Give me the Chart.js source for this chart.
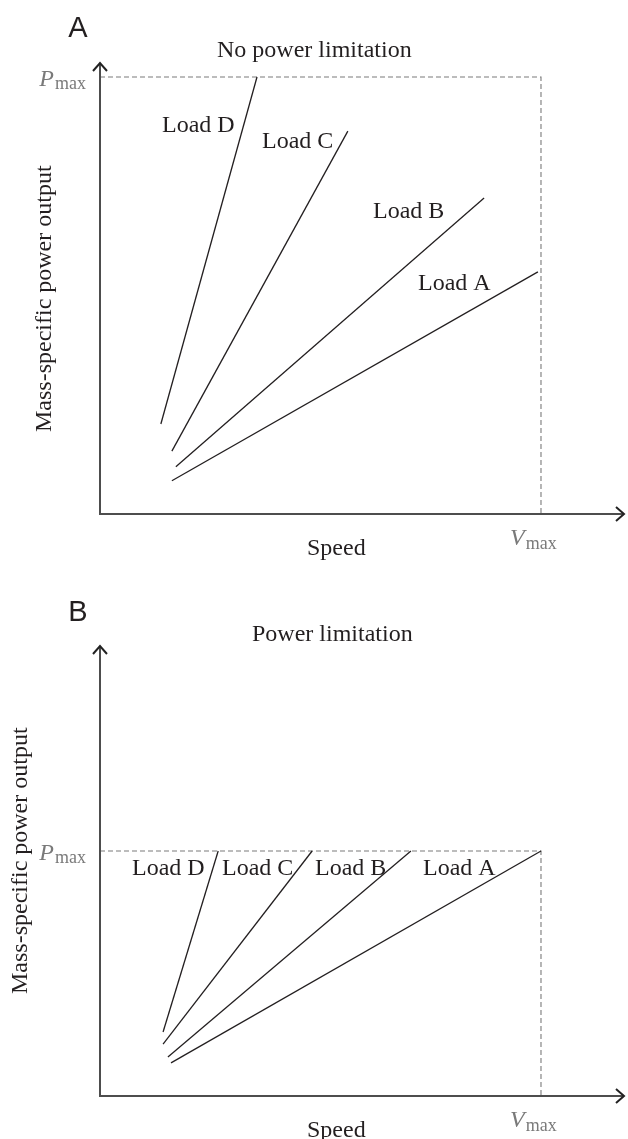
<!DOCTYPE html>
<html><head><meta charset="utf-8">
<script src="https://cdn.jsdelivr.net/npm/chart.js@4"></script>
<style>
html,body{margin:0;padding:0;background:#fff;}
.panel{position:relative;width:628px;}
canvas{display:block;}
</style></head><body>
<div class="panel" style="height:570px"><canvas id="chartA"></canvas></div>
<div class="panel" style="height:569px"><canvas id="chartB"></canvas></div>
<script>
// ---- data (speed in units of Vmax, power in units of Pmax) ----
const loadNames = ['Load A', 'Load B', 'Load C', 'Load D'];
const vmax = 1;
const pmax = 1;
// Panel A: no power limitation
const aSpeedStart = [0.163, 0.172, 0.163, 0.138];
const aSpeedEnd   = [0.993, 0.871, 0.562, 0.356];
const aPowerStart = [0.076, 0.108, 0.144, 0.206];
const aPowerEnd   = [0.554, 0.723, 0.876, 1.000];
// Panel B: power limitation
const bSpeedStart = [0.161, 0.154, 0.143, 0.143];
const bSpeedEnd   = [1.000, 0.705, 0.481, 0.268];
const bPowerStart = [0.135, 0.159, 0.212, 0.261];
const bPowerEnd   = [1.000, 1.000, 1.000, 1.000];

const SERIF = '"Liberation Serif", "Times New Roman", serif';
const SANS = '"Liberation Sans", Arial, sans-serif';
const INK = '#231f20';
const GREY = '#7a7a7a';

function buildDatasets(s0, s1, p0, p1) {
  const ds = loadNames.map((name, i) => ({
    label: name,
    data: [{x: s0[i], y: p0[i]}, {x: s1[i], y: p1[i]}],
    borderColor: INK, borderWidth: 1.3, pointRadius: 0, fill: false
  }));
  ds.push({
    label: 'limits',
    data: [{x: 0, y: pmax}, {x: vmax, y: pmax}, {x: vmax, y: 0}],
    borderColor: GREY, borderWidth: 1.1, borderDash: [5, 3], pointRadius: 0, fill: false
  });
  return ds;
}

const decorPlugin = {
  id: 'decor',
  afterDraw(chart, args, o) {
    const ctx = chart.ctx;
    const xs = chart.scales.x, ys = chart.scales.y;
    const x0 = xs.getPixelForValue(0), y0 = ys.getPixelForValue(0);
    const xEnd = chart.chartArea.right, yEnd = chart.chartArea.top;
    const xV = xs.getPixelForValue(vmax), yP = ys.getPixelForValue(pmax);
    ctx.save();
    // axes
    ctx.strokeStyle = '#4d4d4d'; ctx.lineWidth = 2;
    ctx.beginPath();
    ctx.moveTo(x0, yEnd + 1); ctx.lineTo(x0, y0); ctx.lineTo(xEnd - 1, y0);
    ctx.stroke();
    // arrow heads
    ctx.strokeStyle = '#222'; ctx.lineWidth = 2; ctx.lineJoin = 'miter';
    ctx.beginPath();
    ctx.moveTo(x0 - 7, yEnd + 9); ctx.lineTo(x0, yEnd + 1); ctx.lineTo(x0 + 7, yEnd + 9);
    ctx.moveTo(xEnd - 9, y0 - 7); ctx.lineTo(xEnd - 1, y0); ctx.lineTo(xEnd - 9, y0 + 7);
    ctx.stroke();
    // texts
    ctx.fillStyle = INK; ctx.textBaseline = 'alphabetic';
    ctx.font = '29px ' + SANS; ctx.textAlign = 'center';
    ctx.fillText(o.letter, o.letterPos[0], o.letterPos[1]);
    ctx.font = '24px ' + SERIF; ctx.textAlign = 'left';
    ctx.fillText(o.title, o.titlePos[0], o.titlePos[1]);
    o.labels.forEach(l => ctx.fillText(l[0], l[1], l[2]));
    // x title
    ctx.fillText('Speed', o.speedX, y0 + 41);
    // y title
    ctx.save();
    ctx.translate(o.yTitleX, o.yTitleBottom);
    ctx.rotate(-Math.PI / 2);
    ctx.fillText('Mass-specific power output', 0, 0);
    ctx.restore();
    // Pmax
    ctx.fillStyle = GREY;
    ctx.font = '18px ' + SERIF; ctx.textAlign = 'right';
    ctx.fillText('max', x0 - 14, yP + 12);
    const wMax = ctx.measureText('max').width;
    ctx.font = 'italic 24px ' + SERIF;
    ctx.fillText('P', x0 - 14 - wMax - 1, yP + 9);
    // Vmax
    ctx.textAlign = 'left';
    ctx.font = 'italic 24px ' + SERIF;
    ctx.fillText('V', xV - 31, y0 + 31);
    const wV = ctx.measureText('V').width;
    ctx.font = '18px ' + SERIF;
    ctx.fillText('max', xV - 31 + wV + 1, y0 + 35);
    ctx.restore();
  }
};

function makeChart(id, datasets, yMax, padding, decor) {
  return new Chart(document.getElementById(id), {
    type: 'line',
    data: { datasets },
    options: {
      responsive: true, maintainAspectRatio: false, animation: false,
      layout: { padding },
      plugins: { legend: { display: false }, tooltip: { enabled: false }, decor },
      scales: {
        x: { type: 'linear', min: 0, max: 1.1905, display: false },
        y: { type: 'linear', min: 0, max: yMax, display: false }
      }
    },
    plugins: [decorPlugin]
  });
}

makeChart('chartA', buildDatasets(aSpeedStart, aSpeedEnd, aPowerStart, aPowerEnd), 1.0343,
  { left: 100, right: 3, top: 62, bottom: 56 },
  {
    letter: 'A', letterPos: [78, 37],
    title: 'No power limitation', titlePos: [217, 57],
    labels: [['Load D', 162, 132], ['Load C', 262, 148], ['Load B', 373, 218], ['Load A', 418, 290]],
    speedX: 307, yTitleX: 51, yTitleBottom: 432
  });

makeChart('chartB', buildDatasets(bSpeedStart, bSpeedEnd, bPowerStart, bPowerEnd), 1.8408,
  { left: 100, right: 3, top: 75, bottom: 43 },
  {
    letter: 'B', letterPos: [78, 51],
    title: 'Power limitation', titlePos: [252, 71],
    labels: [['Load D', 132, 305], ['Load C', 222, 305], ['Load B', 315, 305], ['Load A', 423, 305]],
    speedX: 307, yTitleX: 27, yTitleBottom: 424
  });
</script>
</body></html>
